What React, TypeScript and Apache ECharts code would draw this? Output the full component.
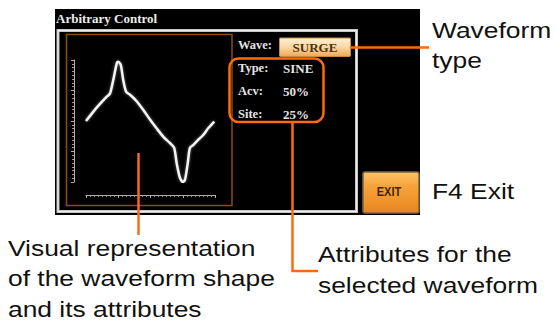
import React, { useEffect, useRef } from "react";
import * as echarts from "echarts";

// Waveform trace (phase in degrees, level in % of full scale)
const phaseDeg = [0, 20, 39, 58, 67, 76, 86, 90, 97, 104, 112, 123, 142, 160, 179, 197, 216, 234, 246, 253, 262, 270, 276, 284, 290, 300, 313, 327, 341, 358];
const levelPct = [0, 15, 28, 40, 45, 67, 95, 97, 92, 67, 48, 43, 32, 18, 2, -12, -26, -36, -44, -69, -93, -100, -97, -69, -44, -39, -31, -23, -12, -1];

const screenTitle = "Arbitrary Control";
const waveLabel = "Wave:";
const waveValue = "SURGE";
const attrLabels = ["Type:", "Acv:", "Site:"];
const attrValues = ["SINE", "50%", "25%"];
const exitLabel = "EXIT";

const noteWaveType = ["Waveform", "type"];
const noteExit = ["F4 Exit"];
const noteVisual = ["Visual representation", "of the waveform shape", "and its attributes"];
const noteAttrs = ["Attributes for the", "selected waveform"];

const ORANGE = "#ff6a10";
const SERIF = "'Liberation Serif', 'DejaVu Serif', serif";
const SANS = "'Liberation Sans', Arial, sans-serif";

function noteText(lines: string[], x: number, y0: number, step: number) {
  return lines.map((t, i) => ({
    type: "text",
    x,
    y: y0 + i * step,
    scaleX: 1.2,
    z: 10,
    style: { text: t, x: 0, y: 0, font: `22px ${SANS}`, fill: "#111111", verticalAlign: "middle", align: "left" },
  }));
}

export default function App() {
  const ref = useRef<HTMLDivElement>(null);
  useEffect(() => {
    if (!ref.current) return;
    const chart = echarts.init(ref.current, undefined, { renderer: "svg" });
    const data = phaseDeg.map((p, i) => [p, levelPct[i]]);

    const screenTexts: any[] = [];
    screenTexts.push({
      type: "text", x: 56, y: 18, z: 5,
      style: { text: screenTitle, font: `bold 13px ${SERIF}`, fill: "#ececec", verticalAlign: "middle" },
    });
    screenTexts.push({
      type: "text", x: 238, y: 45, z: 5,
      style: { text: waveLabel, font: `bold 12.5px ${SERIF}`, fill: "#e4e4e4", verticalAlign: "middle" },
    });
    attrLabels.forEach((l, i) => {
      screenTexts.push({
        type: "text", x: 238, y: 68 + i * 23, z: 5,
        style: { text: l, font: `bold 12.5px ${SERIF}`, fill: "#e4e4e4", verticalAlign: "middle" },
      });
      screenTexts.push({
        type: "text", x: 283, y: 68 + i * 23, z: 5,
        style: { text: attrValues[i], font: `bold 13px ${SERIF}`, fill: "#e4e4e4", verticalAlign: "middle" },
      });
    });

    chart.setOption({
      animation: false,
      backgroundColor: "#ffffff",
      grid: { left: 86, right: 340, top: 60, bottom: 139, containLabel: false },
      xAxis: {
        type: "value", min: 0, max: 360, interval: 90, offset: 13,
        axisLine: { show: true, onZero: false, lineStyle: { color: "#b0b0b0", width: 1 } },
        axisTick: { show: true, length: 3, lineStyle: { color: "#b0b0b0" } },
        minorTick: { show: true, splitNumber: 8, length: 2, lineStyle: { color: "#999999" } },
        axisLabel: { show: false }, splitLine: { show: false },
      },
      yAxis: {
        type: "value", min: -100, max: 100, interval: 50, offset: 12,
        axisLine: { show: true, onZero: false, lineStyle: { color: "#b0b0b0", width: 1 } },
        axisTick: { show: true, length: 3, lineStyle: { color: "#b0b0b0" } },
        minorTick: { show: true, splitNumber: 8, length: 2, lineStyle: { color: "#999999" } },
        axisLabel: { show: false }, splitLine: { show: false },
      },
      series: [
        {
          type: "line", data, symbol: "none", smooth: 0.25, z: 4,
          lineStyle: { color: "#f4f4f4", width: 2.5, shadowBlur: 3, shadowColor: "rgba(255,255,255,0.45)" },
        },
      ],
      graphic: [
        // screen background
        { type: "rect", z: -10, shape: { x: 55, y: 9, width: 365, height: 206 }, style: { fill: "#000000" } },
        // title underline
        {
          type: "line", z: -5, shape: { x1: 160, y1: 26, x2: 410, y2: 26 },
          style: {
            stroke: new echarts.graphic.LinearGradient(0, 0, 1, 0, [
              { offset: 0, color: "#8a5010" }, { offset: 0.7, color: "#6a3c0a" }, { offset: 1, color: "#1a0e02" },
            ]), lineWidth: 1.5,
          },
        },
        // silver frame
        { type: "rect", z: -5, shape: { x: 58, y: 30.5, width: 298.5, height: 181 }, style: { fill: "none", stroke: "#c4c4c4", lineWidth: 3 } },
        { type: "rect", z: -5, shape: { x: 58, y: 30.5, width: 298.5, height: 181 }, style: { fill: "none", stroke: "#f0f0f0", lineWidth: 1 } },
        // brown plot frame
        { type: "rect", z: -5, shape: { x: 66.5, y: 34.5, width: 165.5, height: 171 }, style: { fill: "none", stroke: "#8a4e08", lineWidth: 1.5 } },
        // SURGE button
        {
          type: "rect", z: 3, shape: { x: 279.5, y: 38, width: 71, height: 18.5, r: 1 },
          style: {
            fill: new echarts.graphic.LinearGradient(0, 0, 0, 1, [
              { offset: 0, color: "#fff0d6" }, { offset: 0.5, color: "#fbd7a0" }, { offset: 1, color: "#eea85a" },
            ]), stroke: "#c88a40", lineWidth: 1,
          },
        },
        {
          type: "text", x: 315, y: 47.5, z: 5,
          style: { text: waveValue, font: `bold 13px ${SERIF}`, fill: "#4a3412", align: "center", verticalAlign: "middle" },
        },
        // EXIT button
        {
          type: "rect", z: 3, shape: { x: 363, y: 172, width: 56, height: 41, r: 2 },
          style: {
            fill: new echarts.graphic.LinearGradient(0, 0, 0, 1, [
              { offset: 0, color: "#fbc46a" }, { offset: 0.35, color: "#f6a33a" }, { offset: 1, color: "#e8861c" },
            ]), stroke: "#7a6448", lineWidth: 1.5,
          },
        },
        {
          type: "text", x: 389, y: 192, z: 5, scaleX: 0.85,
          style: { text: exitLabel, x: 0, y: 0, font: `bold 13px ${SANS}`, fill: "#3e2608", align: "center", verticalAlign: "middle" },
        },
        ...screenTexts,
        // orange callouts
        { type: "rect", z: 6, shape: { x: 229.5, y: 58.5, width: 94, height: 63.5, r: 9 }, style: { fill: "none", stroke: ORANGE, lineWidth: 2.5 } },
        { type: "line", z: 6, shape: { x1: 350, y1: 47.5, x2: 429, y2: 47.5 }, style: { stroke: ORANGE, lineWidth: 2.5 } },
        { type: "line", z: 6, shape: { x1: 138.5, y1: 153, x2: 138.5, y2: 235 }, style: { stroke: ORANGE, lineWidth: 2.5 } },
        { type: "polyline", z: 6, shape: { points: [[292.5, 122], [292.5, 271], [318, 271]] }, style: { stroke: ORANGE, lineWidth: 2.5, fill: "none" } },
        // annotation texts
        ...noteText(noteWaveType, 432, 30, 30.5),
        ...noteText(noteExit, 432, 191.5, 30),
        ...noteText(noteVisual, 8, 248, 30.5),
        ...noteText(noteAttrs, 318, 254, 31),
      ],
    });
    return () => chart.dispose();
  }, []);
  return <div ref={ref} style={{ position: "fixed", left: 0, top: 0, width: 555, height: 321 }} />;
}
